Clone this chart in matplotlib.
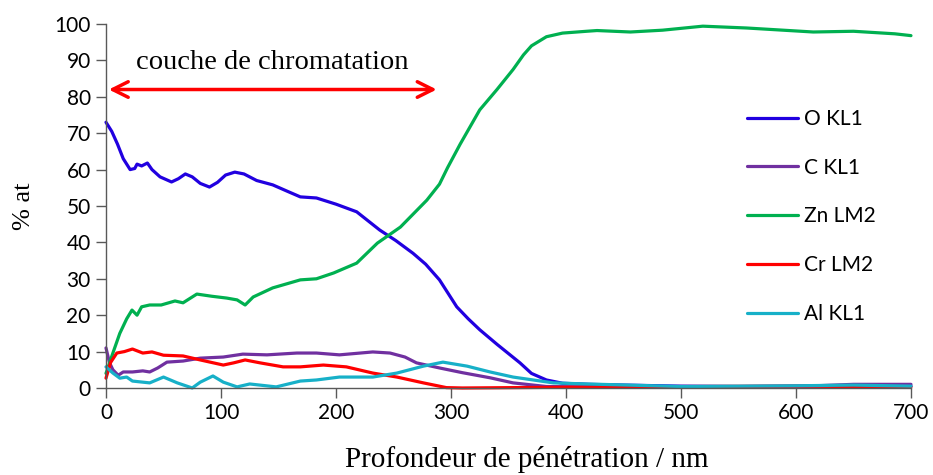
import matplotlib
matplotlib.use('Agg')
import matplotlib.pyplot as plt

# profils XPS, profondeur en nm, concentration en % at
o_x = [0, 5, 10, 15, 21, 25, 27, 31, 36, 40, 47, 57, 63, 69, 75, 82, 90, 97, 104, 112, 120,
       131, 145, 158, 169, 183, 200, 218, 238, 252, 267, 278, 290, 305, 315, 325, 340, 360,
       370, 383, 397, 420, 450, 500, 550, 600, 650, 700]
o_y = [73, 70.5, 67, 63, 60, 60.3, 61.5, 61, 61.8, 60, 58, 56.6, 57.5, 58.8, 58, 56.2, 55.2,
       56.5, 58.5, 59.3, 58.8, 57, 55.8, 54, 52.5, 52.2, 50.5, 48.4, 43.4, 40.5, 37, 34, 29.7,
       22.3, 19, 16, 12, 6.9, 4, 2.2, 1.3, 1, 0.8, 0.5, 0.4, 0.5, 0.6, 0.5]

zn_x = [0, 6, 12, 18, 22.6, 27, 31, 38, 48, 60, 67, 79, 92, 105, 114, 121, 128, 145, 169, 183,
        198, 218, 236, 256, 279, 290, 297, 308, 325, 340, 354, 363, 370, 383, 397, 418, 427,
        456, 484, 519, 557, 615, 650, 686, 700]
zn_y = [4, 9.6, 15, 19, 21.4, 20, 22.3, 22.8, 22.8, 23.9, 23.4, 25.8, 25.2, 24.7, 24.2, 22.8,
        25, 27.5, 29.7, 30, 31.6, 34.3, 39.8, 44.2, 51.6, 56, 60.5, 67, 76.4, 82, 87.5, 91.5,
        94, 96.5, 97.5, 98, 98.2, 97.8, 98.3, 99.4, 98.9, 97.8, 98, 97.3, 96.8]

c_x = [0, 3, 6, 10.6, 15, 23, 32, 38, 45, 53, 67, 82, 102, 119, 140, 166, 183, 203, 232, 247,
       260, 270, 290, 310, 334, 354, 383, 420, 500, 600, 650, 700]
c_y = [11, 7, 5, 3.5, 4.4, 4.4, 4.7, 4.4, 5.5, 7.1, 7.4, 8.2, 8.5, 9.3, 9.1, 9.6, 9.6, 9.1,
       9.9, 9.6, 8.5, 6.9, 5.5, 4.2, 2.8, 1.4, 0.4, 0.3, 0.3, 0.4, 1.0, 1.0]

cr_x = [0, 4, 9.4, 16, 23, 32, 40, 50, 67, 82, 102, 111, 121, 134, 154, 169, 189, 209, 232,
        253, 276, 296, 310, 400, 500, 600, 700]
cr_y = [2.7, 7, 9.6, 10, 10.7, 9.6, 9.9, 9, 8.8, 7.7, 6.3, 6.9, 7.7, 6.9, 5.8, 5.8, 6.3, 5.8,
        4.1, 3.0, 1.4, 0.1, 0, 0.2, 0.4, 0.5, 0.3]

al_x = [0, 6, 12, 18, 23, 38, 50, 62, 75, 82, 93, 102, 114, 125, 148, 169, 183, 203, 232, 253,
        276, 293, 314, 334, 354, 389, 418, 500, 600, 650, 700]
al_y = [5.8, 4.1, 2.7, 3.0, 1.9, 1.4, 3.0, 1.4, 0, 1.6, 3.3, 1.6, 0.3, 1.1, 0.3, 1.9, 2.2, 3.0,
        3.0, 4.1, 6.0, 7.1, 6.0, 4.4, 3.0, 1.4, 1.1, 0.4, 0.6, 0.8, 0.5]

layer_start, layer_end, layer_level = 0, 290, 82

fig = plt.figure(figsize=(9.33, 4.75), dpi=100)
ax = fig.add_axes([0.1136, 0.1832, 0.8628, 0.7663])

series = [
    (o_x, o_y, 'O KL1', '#2100E0'),
    (c_x, c_y, 'C KL1', '#7030A0'),
    (zn_x, zn_y, 'Zn LM2', '#00B050'),
    (cr_x, cr_y, 'Cr LM2', '#FF0000'),
    (al_x, al_y, 'Al KL1', '#17B0C8'),
]
for xs, ys, lab, col in series:
    ax.plot(xs, ys, color=col, lw=2.3, label=lab, solid_joinstyle='round',
            solid_capstyle='round', clip_on=False)

ax.set_xlim(0, 700)
ax.set_ylim(0, 100)
ax.set_xticks(range(0, 701, 100))
ax.set_yticks(range(0, 101, 10))
for s in ('top', 'right'):
    ax.spines[s].set_visible(False)
for s in ('left', 'bottom'):
    ax.spines[s].set_color('#595959')
    ax.spines[s].set_linewidth(1.0)
ax.tick_params(direction='out', length=7, width=1.0, color='#595959',
               labelsize=15, pad=4)
for t in ax.get_xticklabels() + ax.get_yticklabels():
    t.set_family('Lato')

ax.set_xlabel('Profondeur de pénétration / nm', family='Liberation Serif', fontsize=21)
ax.xaxis.set_label_coords(0.523, -0.16)
ax.set_ylabel('% at', family='Liberation Serif', fontsize=19, labelpad=14)

ax.annotate('', xy=(layer_start, layer_level), xytext=(layer_end, layer_level),
            arrowprops=dict(arrowstyle='<->', color='#FF0000', lw=2.5,
                            mutation_scale=28))
ax.text((layer_start + layer_end) / 2, 89.5, 'couche de chromatation', ha='center',
        va='center', family='Liberation Serif', fontsize=20.5)

leg = ax.legend(loc='upper left', bbox_to_anchor=(0.7725, 0.818), frameon=False,
                prop={'family': 'Lato', 'size': 15}, handlelength=2.45,
                handletextpad=0.3, labelspacing=1.38)

fig.savefig('out.png', dpi=100)
